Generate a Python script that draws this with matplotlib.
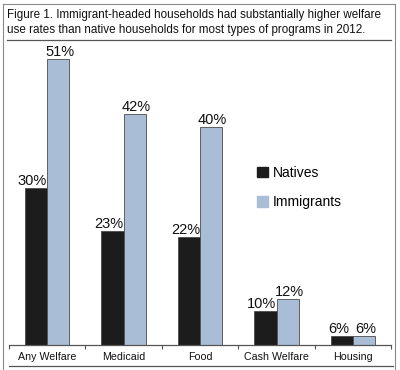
import matplotlib
matplotlib.use('Agg')
import matplotlib.pyplot as plt
from matplotlib.lines import Line2D
from matplotlib.patches import Patch
import numpy as np

plt.rcParams['font.family'] = ['Liberation Sans', 'DejaVu Sans']

categories = ['Any Welfare', 'Medicaid', 'Food', 'Cash Welfare', 'Housing']
natives = [30, 23, 22, 10, 6]
immigrants = [51, 42, 40, 12, 6]
series_names = ['Natives', 'Immigrants']
title_lines = ['Figure 1. Immigrant-headed households had substantially higher welfare',
               'use rates than native households for most types of programs in 2012.']

c_nat = '#1c1c1c'
c_imm = '#a9bdd7'
edge = '#4a4a4a'

W, H = 400, 370
fig = plt.figure(figsize=(W / 100, H / 100), dpi=100)


def px(x, y):
    # pixel coords (top-left origin) -> figure fraction
    return x / W, 1 - y / H


# frame lines of the figure box
def fline(x0, y0, x1, y1, color, lw=1.0):
    a, b = px(x0, y0)
    c, d = px(x1, y1)
    fig.add_artist(Line2D([a, c], [b, d], transform=fig.transFigure, color=color, lw=lw))


fline(3, 4, 395, 4, '#8a8a8a', 0.8)
fline(3, 4, 3, 370, '#8a8a8a', 0.8)
fline(395, 4, 395, 370, '#8a8a8a', 0.8)
fline(7, 40, 391, 40, '#555555', 0.9)
fline(9, 366, 393, 366, '#555555', 0.9)

for i, line in enumerate(title_lines):
    x, y = px(7, 18 + i * 15)
    fig.text(x, y, line, fontsize=8.4, va='baseline', ha='left', color='#111111')

ax_l, ax_b = px(8.75, 345)
ax_r, ax_t = px(391.25, 50)
ax = fig.add_axes([ax_l, ax_b, ax_r - ax_l, ax_t - ax_b])

x = np.arange(len(categories))
bw = 0.288
b1 = ax.bar(x - bw / 2, natives, bw, bottom=0, color=c_nat, edgecolor=edge, linewidth=0.6)
b2 = ax.bar(x + bw / 2, immigrants, bw, bottom=0, color=c_imm, edgecolor=edge, linewidth=0.6)

ax.set_xlim(-0.5, len(categories) - 0.5)
ax.set_ylim(4.5, 4.5 + 295 / 6.15)

for rect, v in zip(b1, natives):
    ax.annotate('%d%%' % v, (rect.get_x() + rect.get_width() / 2, v),
                xytext=(-3.5, 3), textcoords='offset pixels',
                ha='center', va='baseline', fontsize=10.5, color='#111111')
for rect, v in zip(b2, immigrants):
    ax.annotate('%d%%' % v, (rect.get_x() + rect.get_width() / 2, v),
                xytext=(1.5, 3), textcoords='offset pixels',
                ha='center', va='baseline', fontsize=10.5, color='#111111')

for s in ['top', 'left', 'right']:
    ax.spines[s].set_visible(False)
ax.spines['bottom'].set_color('#555555')
ax.spines['bottom'].set_linewidth(0.9)
ax.set_yticks([])
ax.set_xticks(x)
ax.set_xticklabels(categories, fontsize=7.7, color='#111111')
ax.tick_params(axis='x', which='major', length=0, pad=5)
ax.set_xticks(np.arange(-0.5, len(categories)), minor=True)
ax.tick_params(axis='x', which='minor', length=3, width=0.8, color='#555555', direction='out')
ax.patch.set_visible(False)

handles = [Patch(facecolor=c_nat, edgecolor=c_nat), Patch(facecolor=c_imm, edgecolor=c_imm)]
lx, ly = px(257, 166)
fig.legend(handles, series_names, loc='upper left', bbox_to_anchor=(lx, ly),
           frameon=False, fontsize=10, handlelength=0.8, handleheight=0.8,
           handletextpad=0.35, labelspacing=1.1, borderaxespad=0, borderpad=0)

fig.savefig('out.png', dpi=100)
